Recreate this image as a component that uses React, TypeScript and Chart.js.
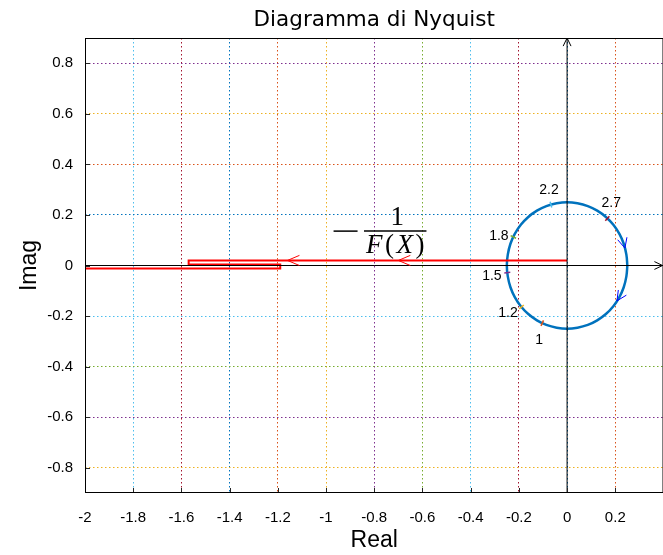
import React, { useEffect, useRef } from "react";
import { Chart, registerables } from "chart.js";

Chart.register(...registerables);

// ---- axis / tick data ----
const xRange = [-2, 0.4];
const yRange = [-0.9, 0.9];
const xTicks = [-2, -1.8, -1.6, -1.4, -1.2, -1, -0.8, -0.6, -0.4, -0.2, 0, 0.2];
const yTicks = [-0.8, -0.6, -0.4, -0.2, 0, 0.2, 0.4, 0.6, 0.8];
const xGridColors = ["#77AC30", "#4DBEEE", "#A2142F", "#0072BD", "#D95319", "#EDB120", "#7E2F8E", "#77AC30", "#4DBEEE", "#A2142F", "#0072BD", "#D95319"];
const yGridColors = ["#EDB120", "#7E2F8E", "#77AC30", "#4DBEEE", "#A2142F", "#0072BD", "#D95319", "#EDB120", "#7E2F8E"];

// ---- describing-function locus -1/F(X) ----
const redRe = [0, -1.57, -1.57, -1.19, -1.19, -2];
const redIm = [0.02, 0.02, 0.004, 0.004, -0.012, -0.012];
const redArrowRe = [-0.7, -1.16];
const redArrowIm = [0.02, 0.02];

// ---- Nyquist curve (circle) ----
const circleRe = [0.25, 0.246, 0.235, 0.217, 0.192, 0.161, 0.125, 0.086, 0.043, 0, -0.043, -0.086, -0.125, -0.161, -0.192, -0.217, -0.235, -0.246, -0.25, -0.246, -0.235, -0.217, -0.192, -0.161, -0.125, -0.086, -0.043, 0, 0.043, 0.086, 0.125, 0.161, 0.192, 0.217, 0.235, 0.246, 0.25];
const circleIm = [0, 0.043, 0.086, 0.125, 0.161, 0.192, 0.217, 0.235, 0.246, 0.25, 0.246, 0.235, 0.217, 0.192, 0.161, 0.125, 0.086, 0.043, 0, -0.043, -0.086, -0.125, -0.161, -0.192, -0.217, -0.235, -0.246, -0.25, -0.246, -0.235, -0.217, -0.192, -0.161, -0.125, -0.086, -0.043, 0];
const blueArrowRe = [0.24, 0.207];
const blueArrowIm = [0.069, -0.14];

// ---- frequency markers ----
const freqLabels = ["1", "1.2", "1.5", "1.8", "2.2", "2.7"];
const freqRe = [-0.103, -0.189, -0.248, -0.223, -0.067, 0.167];
const freqIm = [-0.228, -0.164, -0.028, 0.113, 0.241, 0.186];
const freqColors = ["#D95319", "#EDB120", "#7E2F8E", "#77AC30", "#4DBEEE", "#A2142F"];
const freqLabelRe = [-0.116, -0.245, -0.312, -0.283, -0.075, 0.183];
const freqLabelIm = [-0.295, -0.188, -0.042, 0.117, 0.299, 0.247];

// ---- annotation -1/F(X) ----
const fracRe = -0.713;
const fracIm = 0.138;
const minusRe = -0.919;

const titleText = "Diagramma di Nyquist";
const xTitle = "Real";
const yTitle = "Imag";

const SANS = '"Liberation Sans", Arial, sans-serif';
const TSANS = '"DejaVu Sans", sans-serif';
const SERIF = '"Liberation Serif", "Times New Roman", serif';

const CANVAS_W = 669;
const CANVAS_H = 555;

function fmt(v: number) {
  return String(Number(v.toFixed(2)));
}

function colorFor(ticks: number[], colors: string[], v: number) {
  const i = ticks.findIndex((t) => Math.abs(t - v) < 1e-9);
  return i < 0 ? "rgba(0,0,0,0)" : colors[i];
}

function chevron(ctx: CanvasRenderingContext2D, px: number, py: number, ang: number, len: number, half: number, color: string, lw: number) {
  ctx.save();
  ctx.strokeStyle = color;
  ctx.lineWidth = lw;
  ctx.beginPath();
  ctx.moveTo(px - len * Math.cos(ang - half), py - len * Math.sin(ang - half));
  ctx.lineTo(px, py);
  ctx.lineTo(px - len * Math.cos(ang + half), py - len * Math.sin(ang + half));
  ctx.stroke();
  ctx.restore();
}

const overlay = {
  id: "overlay",
  afterDatasetsDraw(chart: any) {
    const { ctx, chartArea: a } = chart;
    const x = chart.scales.x;
    const y = chart.scales.y;
    ctx.save();
    // inward ticks
    ctx.strokeStyle = "#262626";
    ctx.lineWidth = 1;
    ctx.beginPath();
    xTicks.forEach((v) => {
      const px = Math.round(x.getPixelForValue(v)) + 0.5;
      ctx.moveTo(px, a.bottom);
      ctx.lineTo(px, a.bottom - 5);
    });
    yTicks.forEach((v) => {
      const py = Math.round(y.getPixelForValue(v)) + 0.5;
      ctx.moveTo(a.left, py);
      ctx.lineTo(a.left + 5, py);
    });
    ctx.stroke();
    // frame
    ctx.strokeStyle = "#000";
    ctx.strokeRect(a.left + 0.5, a.top + 0.5, a.right - a.left - 1, a.bottom - a.top - 1);
    ctx.restore();

    // axis arrows
    chevron(ctx, x.getPixelForValue(0), y.getPixelForValue(yRange[1]), -Math.PI / 2, 9, 0.45, "#000", 1);
    chevron(ctx, x.getPixelForValue(xRange[1]) - 1, y.getPixelForValue(0), 0, 9, 0.45, "#000", 1);

    // red arrows
    redArrowRe.forEach((re, i) => {
      chevron(ctx, x.getPixelForValue(re), y.getPixelForValue(redArrowIm[i]), Math.PI, 13, 0.4, "#ff0000", 1);
    });
    // blue arrows (clockwise tangent)
    blueArrowRe.forEach((re, i) => {
      const im = blueArrowIm[i];
      const p0x = x.getPixelForValue(re), p0y = y.getPixelForValue(im);
      const p1x = x.getPixelForValue(re + im * 0.01), p1y = y.getPixelForValue(im - re * 0.01);
      const ang = Math.atan2(p1y - p0y, p1x - p0x);
      chevron(ctx, p0x, p0y, ang, 11, 0.45, "#0000ff", 1);
    });

    // frequency labels
    ctx.save();
    ctx.fillStyle = "#000";
    ctx.font = `14px ${SANS}`;
    ctx.textAlign = "center";
    ctx.textBaseline = "middle";
    freqLabels.forEach((t, i) => {
      ctx.fillText(t, x.getPixelForValue(freqLabelRe[i]), y.getPixelForValue(freqLabelIm[i]));
    });
    ctx.restore();

    // -1/F(X)
    ctx.save();
    ctx.fillStyle = "#000";
    ctx.strokeStyle = "#000";
    const cx = x.getPixelForValue(fracRe);
    const cy = y.getPixelForValue(fracIm);
    const mx = x.getPixelForValue(minusRe);
    ctx.lineWidth = 1.5;
    ctx.beginPath();
    ctx.moveTo(mx - 12, cy + 0.5);
    ctx.lineTo(mx + 12, cy + 0.5);
    ctx.stroke();
    const parts: [string, boolean][] = [["F", true], ["(", false], ["X", true], [")", false]];
    const fs = 27;
    const gap = 2.5;
    let total = 0;
    const widths = parts.map(([t, it]) => {
      ctx.font = `${it ? "italic " : ""}${fs}px ${SERIF}`;
      const w = ctx.measureText(t).width + gap;
      total += w;
      return w;
    });
    total -= gap;
    ctx.beginPath();
    ctx.moveTo(cx - total / 2 - 2, cy + 0.5);
    ctx.lineTo(cx + total / 2 + 2, cy + 0.5);
    ctx.stroke();
    ctx.textBaseline = "alphabetic";
    ctx.textAlign = "left";
    let sx = cx - total / 2;
    parts.forEach(([t, it], i) => {
      ctx.font = `${it ? "italic " : ""}${fs}px ${SERIF}`;
      ctx.fillText(t, sx, cy + 22);
      sx += widths[i];
    });
    ctx.font = `${fs}px ${SERIF}`;
    ctx.textAlign = "center";
    ctx.fillText("1", cx + 2, cy - 6);
    ctx.restore();
  },
  afterDraw(chart: any) {
    const { ctx, chartArea: a } = chart;
    ctx.save();
    ctx.fillStyle = "#000";
    ctx.textAlign = "center";
    ctx.textBaseline = "middle";
    const midX = (a.left + a.right) / 2;
    ctx.font = `21.5px ${TSANS}`;
    ctx.fillText(titleText, midX, 20);
    ctx.font = `23px ${SANS}`;
    ctx.fillText(xTitle, midX, 541);
    ctx.translate(30, (a.top + a.bottom) / 2);
    ctx.rotate(-Math.PI / 2);
    ctx.fillText(yTitle, 0, 0);
    ctx.restore();
  },
};

function toPts(xs: number[], ys: number[]) {
  return xs.map((v, i) => ({ x: v, y: ys[i] }));
}

export default function App() {
  const ref = useRef<HTMLCanvasElement | null>(null);
  useEffect(() => {
    if (!ref.current) return;
    const chart = new Chart(ref.current, {
      type: "scatter",
      data: {
        datasets: [
          {
            data: toPts(xRange, [0, 0]),
            showLine: true,
            borderColor: "#000",
            borderWidth: 1,
            pointRadius: 0,
          },
          {
            data: toPts([0, 0], yRange),
            showLine: true,
            borderColor: "#000",
            borderWidth: 1,
            pointRadius: 0,
          },
          {
            data: toPts(freqRe, freqIm),
            pointStyle: "line",
            pointRadius: 3,
            pointBorderWidth: 1.5,
            borderColor: freqColors,
            backgroundColor: freqColors,
            rotation: (c: any) => {
              const r = c.raw;
              if (!r) return 0;
              return (-Math.atan2(r.y, r.x) * 180) / Math.PI;
            },
          } as any,
          {
            data: toPts(redRe, redIm),
            showLine: true,
            borderColor: "#ff0000",
            borderWidth: 2,
            pointRadius: 0,
            tension: 0,
          },
          {
            data: toPts(circleRe, circleIm),
            showLine: true,
            borderColor: "#0072BD",
            borderWidth: 2.5,
            pointRadius: 0,
            tension: 0.4,
          },
        ],
      },
      options: {
        animation: false,
        responsive: false,
        devicePixelRatio: 1,
        layout: { padding: { top: 38, right: 1, left: 0, bottom: 0 } },
        plugins: {
          legend: { display: false },
          title: { display: false },
          tooltip: { enabled: false },
        },
        scales: {
          x: {
            type: "linear",
            min: xRange[0],
            max: xRange[1],
            afterBuildTicks: (s: any) => {
              s.ticks = xTicks.map((v) => ({ value: v }));
            },
            afterFit: (s: any) => {
              s.height = 62;
              s.paddingLeft = 0;
              s.paddingRight = 0;
            },
            grid: {
              color: (c: any) => colorFor(xTicks, xGridColors, c.tick ? c.tick.value : NaN),
              lineWidth: 1,
              drawTicks: false,
            },
            border: { display: false, dash: [1.5, 2.5] },
            ticks: {
              padding: 16,
              color: "#000",
              font: { family: SANS, size: 15 },
              maxRotation: 0,
              autoSkip: false,
              callback: (v: any) => fmt(Number(v)),
            },
          },
          y: {
            type: "linear",
            min: yRange[0],
            max: yRange[1],
            afterBuildTicks: (s: any) => {
              s.ticks = yTicks.map((v) => ({ value: v }));
            },
            afterFit: (s: any) => {
              s.width = 85;
              s.paddingTop = 0;
              s.paddingBottom = 0;
            },
            grid: {
              color: (c: any) => colorFor(yTicks, yGridColors, c.tick ? c.tick.value : NaN),
              lineWidth: 1,
              drawTicks: false,
            },
            border: { display: false, dash: [1.5, 2.5] },
            ticks: {
              padding: 12,
              color: "#000",
              font: { family: SANS, size: 15 },
              autoSkip: false,
              callback: (v: any) => fmt(Number(v)),
            },
          },
        },
      } as any,
      plugins: [overlay],
    });
    return () => chart.destroy();
  }, []);
  return (
    <div style={{ position: "fixed", left: 0, top: 0, width: 663, height: 555, overflow: "hidden", background: "#fff" }}>
      <canvas ref={ref} width={CANVAS_W} height={CANVAS_H} style={{ display: "block" }} />
    </div>
  );
}
